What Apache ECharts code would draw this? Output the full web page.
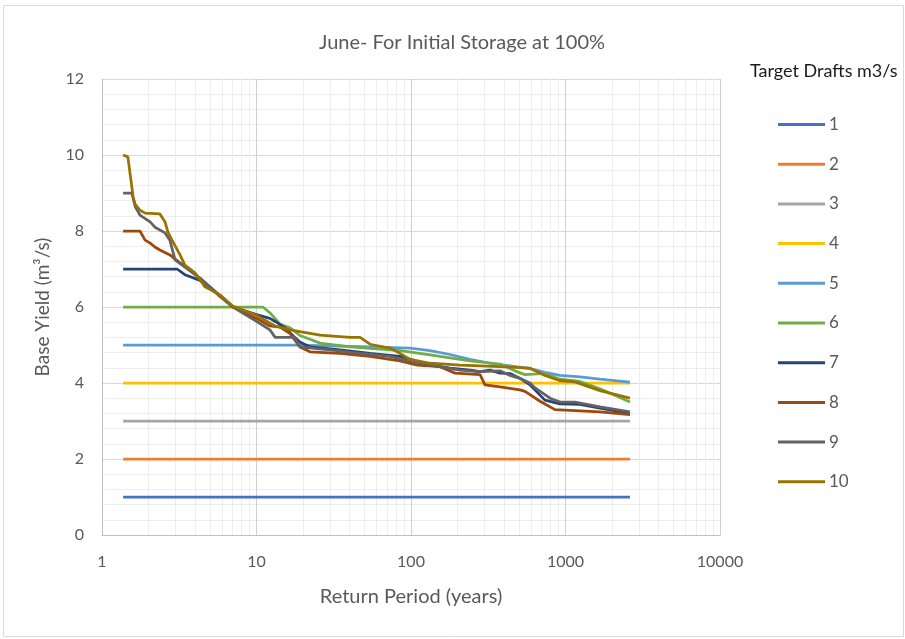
<!DOCTYPE html>
<html>
<head>
    <meta charset="utf-8">
    <title>June- For Initial Storage at 100%</title>
    <script src="https://cdn.jsdelivr.net/npm/echarts@6/dist/echarts.min.js"></script>
    <style>
        html, body { margin: 0; padding: 0; background: #fff; }
        #chart1 { width: 905px; height: 639px; }
    </style>
</head>
<body>
<div id="chart1"></div>
<script type="text/javascript">
    // 图例名称和颜色 (Target Drafts m3/s)
    var draftNames = ['1', '2', '3', '4', '5', '6', '7', '8', '9', '10'];
    var draftColors = ['#4472C4', '#ED7D31', '#A5A5A5', '#FFC000', '#5B9BD5',
                       '#70AD47', '#264478', '#9E480E', '#636363', '#997300'];

    // [return period (years), base yield (m3/s)]
    var draft1 = [[1.37, 1], [2614, 1]];
    var draft2 = [[1.37, 2], [2614, 2]];
    var draft3 = [[1.37, 3], [2614, 3]];
    var draft4 = [[1.37, 4], [2614, 4]];
    var draft5 = [[1.37, 5], [19.1, 5], [29.9, 4.98], [54.3, 4.95], [98.6, 4.92], [133, 4.85],
                  [179, 4.75], [241, 4.62], [324, 4.52], [437, 4.45], [589, 4.38], [736, 4.28],
                  [921, 4.2], [1241, 4.16], [1671, 4.1], [2614, 4.02]];
    var draft6 = [[1.37, 6], [11.0, 6], [12.2, 5.85], [14.2, 5.55], [16.5, 5.45], [19.1, 5.25],
                  [22.2, 5.15], [25.8, 5.05], [40.3, 4.95], [84.9, 4.85], [133, 4.74], [154, 4.7],
                  [241, 4.58], [377, 4.5], [471, 4.32], [547, 4.22], [736, 4.25], [921, 4.1],
                  [1241, 4.04], [1671, 3.85], [2614, 3.5]];
    var draft7 = [[1.37, 7], [3.06, 7], [3.44, 6.85], [4.31, 6.7], [5.8, 6.3], [7.04, 6.0],
                  [10, 5.8], [12.2, 5.7], [13.2, 5.62], [15.3, 5.45], [17.7, 5.2], [19.1, 5.08],
                  [22.2, 4.95], [34.7, 4.87], [54.3, 4.78], [84.9, 4.7], [133, 4.47], [179, 4.39],
                  [241, 4.34], [280, 4.3], [324, 4.34], [377, 4.26], [437, 4.25], [508, 4.12],
                  [589, 3.95], [736, 3.55], [921, 3.45], [1241, 3.44], [1671, 3.34], [2614, 3.2]];
    var draft8 = [[1.37, 8], [1.76, 8], [1.9, 7.76], [2.05, 7.68], [2.2, 7.58], [2.37, 7.5],
                  [2.75, 7.37], [3.2, 7.16], [3.71, 6.97], [4.31, 6.75], [5.8, 6.28], [7.04, 6.0],
                  [10, 5.7], [12.2, 5.5], [14.2, 5.47], [16.5, 5.3], [19.1, 4.95], [22.2, 4.82],
                  [34.7, 4.78], [54.3, 4.7], [84.9, 4.58], [110, 4.47], [154, 4.43], [193, 4.26],
                  [280, 4.22], [301, 3.95], [377, 3.9], [508, 3.82], [547, 3.78], [684, 3.52],
                  [855, 3.3], [1069, 3.28], [1671, 3.24], [2614, 3.17]];
    var draft9 = [[1.37, 9], [1.56, 9], [1.64, 8.64], [1.76, 8.42], [2.05, 8.24], [2.2, 8.1],
                  [2.56, 7.95], [2.75, 7.76], [2.97, 7.24], [3.44, 7.05], [4.31, 6.76], [5.8, 6.3],
                  [7.04, 6.0], [10, 5.62], [12.2, 5.4], [13.2, 5.2], [17.7, 5.2], [19.1, 4.95],
                  [29.9, 4.87], [46.8, 4.78], [73, 4.7], [98.6, 4.58], [133, 4.47], [207, 4.34],
                  [280, 4.3], [377, 4.32], [437, 4.2], [508, 4.12], [589, 4.0], [635, 3.87],
                  [794, 3.6], [921, 3.5], [1151, 3.5], [1671, 3.37], [2614, 3.24]];
    var draft10 = [[1.37, 10], [1.47, 9.95], [1.59, 8.9], [1.64, 8.7], [1.76, 8.55], [1.9, 8.47],
                   [2.37, 8.45], [2.56, 8.24], [2.67, 7.97], [2.84, 7.76], [3.2, 7.37], [3.44, 7.1],
                   [4.0, 6.9], [4.64, 6.53], [5.8, 6.32], [7.04, 6.02], [10, 5.78], [13.2, 5.5],
                   [16.5, 5.4], [19.1, 5.35], [25.8, 5.26], [40.3, 5.2], [46.8, 5.2], [54.3, 5.02],
                   [73, 4.92], [84.9, 4.78], [98.6, 4.62], [133, 4.52], [207, 4.47], [377, 4.43],
                   [589, 4.39], [736, 4.2], [921, 4.06], [1151, 4.03], [1671, 3.8], [2614, 3.6]];
    var draftData = [draft1, draft2, draft3, draft4, draft5, draft6, draft7, draft8, draft9, draft10];

    var fontName = 'Lato, "Open Sans", sans-serif';

    var series = draftNames.map(function (name, i) {
        return {
            name: name,
            type: 'line',
            data: draftData[i],
            symbol: 'none',
            lineStyle: { width: 2.75, color: draftColors[i] },
            itemStyle: { color: draftColors[i] },
            z: 2 + i
        };
    });

    var myChart1 = echarts.init(document.getElementById('chart1'));
    myChart1.setOption({
        animation: false,
        backgroundColor: '#fff',
        textStyle: { fontFamily: fontName },
        title: [{
            text: 'June- For Initial Storage at 100%',
            left: 457,
            textAlign: 'center',
            top: 28,
            textStyle: { fontSize: 20, fontWeight: 'normal', color: '#595959', fontFamily: fontName }
        }, {
            text: 'Target Drafts m3/s',
            left: 745,
            top: 57,
            textStyle: { fontSize: 18, fontWeight: 'normal', color: '#1a1a1a', fontFamily: fontName }
        }],
        graphic: [{
            type: 'rect',
            shape: { x: 3.5, y: 5.5, width: 900, height: 631 },
            style: { fill: 'none', stroke: '#D9D9D9', lineWidth: 1 },
            silent: true
        }],
        legend: {
            orient: 'vertical',
            left: 773,
            top: 111,
            icon: 'rect',
            itemWidth: 47,
            itemHeight: 3,
            itemGap: 22.7,
            data: draftNames,
            textStyle: { fontSize: 17, color: '#595959', fontFamily: fontName, padding: [0, 0, 0, -1] }
        },
        grid: { left: 102, right: 185, top: 79, bottom: 104 },
        xAxis: {
            type: 'log',
            logBase: 10,
            min: 1,
            max: 10000,
            name: 'Return Period (years)',
            nameLocation: 'middle',
            nameGap: 52,
            nameTextStyle: { fontSize: 20, color: '#595959' },
            axisLine: { show: true, lineStyle: { color: '#BFBFBF' } },
            axisTick: { show: false },
            axisLabel: {
                fontSize: 16, color: '#595959', margin: 19,
                formatter: function (v) { return String(v); }
            },
            splitLine: { show: true, lineStyle: { color: '#D0D0D0' } },
            minorTick: { show: false, splitNumber: 9 },
            minorSplitLine: { show: true, lineStyle: { color: '#EDEDED' } }
        },
        yAxis: {
            type: 'value',
            min: 0,
            max: 12,
            interval: 2,
            name: 'Base Yield (m³/s)',
            nameLocation: 'middle',
            nameGap: 50,
            nameTextStyle: { fontSize: 19, color: '#595959' },
            axisLine: { show: true, lineStyle: { color: '#BFBFBF' } },
            axisTick: { show: false },
            axisLabel: { fontSize: 16, color: '#595959', margin: 18 },
            splitLine: { show: true, lineStyle: { color: '#D9D9D9' } },
            minorTick: { show: false, splitNumber: 5 },
            minorSplitLine: { show: true, lineStyle: { color: '#EDEDED' } }
        },
        series: series
    });
</script>
</body>
</html>
